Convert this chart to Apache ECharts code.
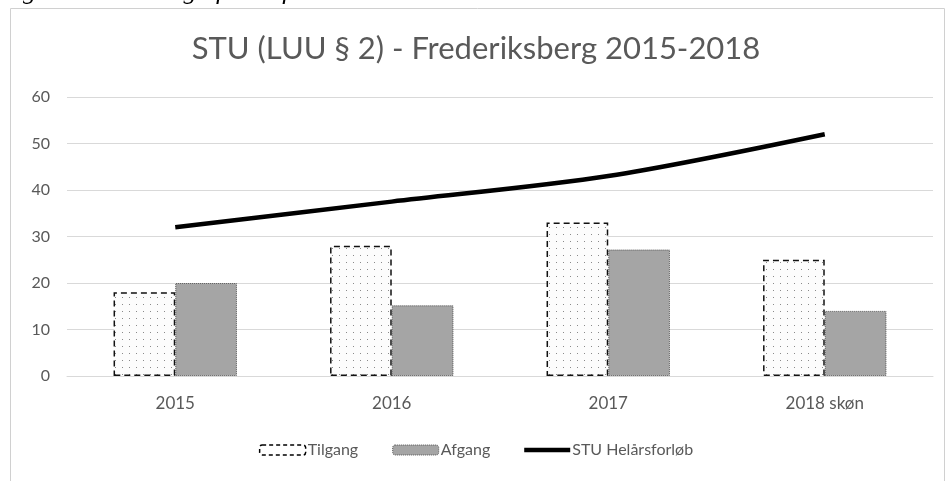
<!DOCTYPE html>
<html><head><meta charset="utf-8">
<script src="https://cdn.jsdelivr.net/npm/echarts@6/dist/echarts.min.js"></script>
<style>html,body{margin:0;padding:0;background:#fff}#c{width:952px;height:481px}</style>
</head><body><div id="c"></div>
<script>
const categories = ['2015', '2016', '2017', '2018 skøn'];
const tilgang = [18, 28, 33, 25];
const afgang = [20, 15.2, 27.2, 14];
const helaar = [32, 37.5, 43, 52];
const yTicks = [0, 10, 20, 30, 40, 50, 60];

const pc = document.createElement('canvas');
pc.width = 7; pc.height = 7;
const g = pc.getContext('2d');
g.fillStyle = '#fcfcfc'; g.fillRect(0, 0, 7, 7);
g.fillStyle = '#8a8a8a'; g.fillRect(3, 3, 1, 1);
const dotPattern = { image: pc, repeat: 'repeat' };

const font = 'Lato, "Noto Sans", sans-serif';
const chart = echarts.init(document.getElementById('c'));
chart.setOption({
  animation: false,
  textStyle: { fontFamily: font },
  graphic: [
    { type: 'rect', shape: { x: 10.5, y: 8.5, width: 934, height: 480 }, style: { fill: 'none', stroke: '#d0d0d0', lineWidth: 1 } },
    { type: 'text', left: 0, top: -21, style: { text: 'Figur 4: Udvikling af STU forløb i kommunen', font: 'italic 26px "Liberation Serif", serif', fill: '#000' } }
  ],
  title: {
    text: 'STU (LUU § 2) - Frederiksberg 2015-2018',
    left: 'center', top: 28,
    textStyle: { fontFamily: font, fontSize: 31, fontWeight: 'normal', color: '#595959' }
  },
  legend: {
    bottom: 18, left: 'center', itemGap: 34, itemWidth: 46, itemHeight: 10,
    textStyle: { color: '#595959', fontSize: 16, fontFamily: font, padding: [0, 0, 0, -3] },
    data: [
      { name: 'Tilgang', itemStyle: { color: '#fff', borderColor: '#000', borderWidth: 1.5, borderType: [4, 3] } },
      { name: 'Afgang', itemStyle: { color: '#a5a5a5', borderColor: '#555', borderWidth: 1, borderType: 'dotted' } },
      { name: 'STU Helårsforløb', icon: 'path://M0,0 L46,0 L46,4.5 L0,4.5 Z', itemStyle: { color: '#000' } }
    ]
  },
  grid: { left: 67, right: 19, top: 97, bottom: 105, containLabel: false },
  xAxis: {
    type: 'category', data: categories,
    axisLine: { lineStyle: { color: '#d9d9d9' } }, axisTick: { show: false },
    axisLabel: { color: '#595959', fontSize: 17, margin: 19, fontFamily: font }
  },
  yAxis: {
    type: 'value', min: 0, max: 60, interval: 10,
    axisLabel: { color: '#595959', fontSize: 16, margin: 17, fontFamily: font,
      formatter: v => yTicks.includes(v) ? String(v) : '' },
    splitLine: { lineStyle: { color: '#d9d9d9', width: 1.2 } },
    axisLine: { show: false }, axisTick: { show: false }
  },
  series: [
    { name: 'Tilgang', type: 'bar', data: tilgang, barGap: '0%', barCategoryGap: '43%',
      itemStyle: { color: dotPattern, borderColor: '#111', borderWidth: 1.5, borderType: [6, 4] } },
    { name: 'Afgang', type: 'bar', data: afgang,
      itemStyle: { color: '#a5a5a5', borderColor: '#555', borderWidth: 1, borderType: 'dotted' } },
    { name: 'STU Helårsforløb', type: 'line', data: helaar, smooth: 0.3, symbol: 'none',
      lineStyle: { color: '#000', width: 4.5 }, itemStyle: { color: '#000' } }
  ]
});
</script></body></html>
